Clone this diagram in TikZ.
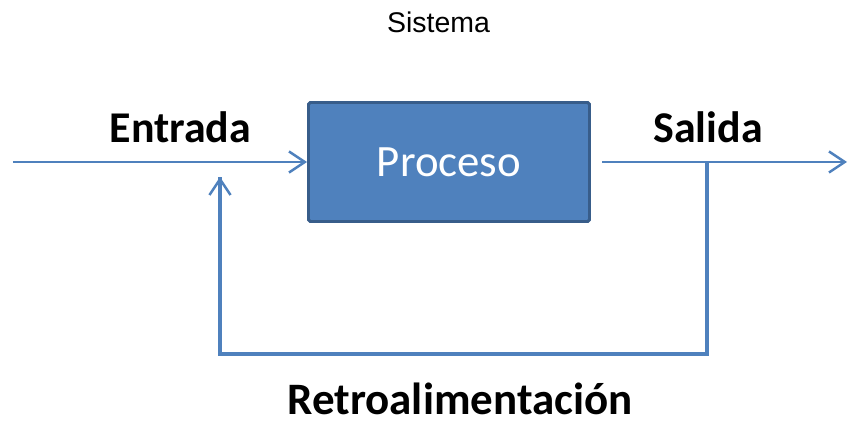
\documentclass[tikz,border=0pt]{standalone}
\usepackage{fontspec}
\setmainfont{Carlito}
\newfontfamily\titlefont{Liberation Sans}
\usepackage{tikz}
\usetikzlibrary{arrows.meta}
\definecolor{flowblue}{HTML}{4F81BD}
\definecolor{boxfill}{HTML}{4F81BD}
\definecolor{boxedge}{HTML}{385D8A}
\tikzset{
  flow/.style={draw=flowblue, line width=1.2pt, -{Straight Barb[length=9pt,width=12pt,line width=1.4pt]}},
  fb/.style={draw=flowblue, line width=1.8pt, line join=miter},
  block/.style={
    draw=boxedge, fill=boxfill, line width=1.7pt,
    rounded corners=1pt,
    minimum width=5.62cm, minimum height=2.38cm,
    font=\fontsize{25.5}{28}\selectfont, text=white
  },
  lbl/.style={font=\bfseries\fontsize{25}{28}\selectfont, anchor=base, inner sep=0pt}
}
\begin{document}
\begin{tikzpicture}
  \useasboundingbox (0,0) rectangle (16.96,8.54);

  \node[font=\titlefont\fontsize{16.2}{18}\selectfont, anchor=base, inner sep=0pt] (sistema) at (8.77,7.88) {Sistema};

  \node[block] (proceso) at (8.98,5.30) {Proceso};

  \coordinate (in)  at (0.26,5.30);
  \coordinate (out) at (16.94,5.30);
  \coordinate (outstart) at (12.04,5.30);
  \draw[flow] (in) -- (proceso.west);
  \draw[flow] (outstart) -- (out);

  \node[lbl] (entrada) at (3.61,5.68) {Entrada};
  \node[lbl] (salida) at (14.16,5.68) {Salida};

  % lazo de retroalimentacion
  \coordinate (tap)    at (14.14,5.30);
  \coordinate (tapbot) at (14.14,1.46);
  \coordinate (fbin)   at (4.40,5.00);
  \draw[fb] (tap) -- (tapbot) -| (fbin);
  \draw[flow, line width=1.8pt] ([yshift=-0.5cm]fbin) -- (fbin);

  \node[lbl, font=\bfseries\fontsize{25.6}{28}\selectfont] (retro) at (9.20,0.24) {Retroalimentación};
\end{tikzpicture}
\end{document}
